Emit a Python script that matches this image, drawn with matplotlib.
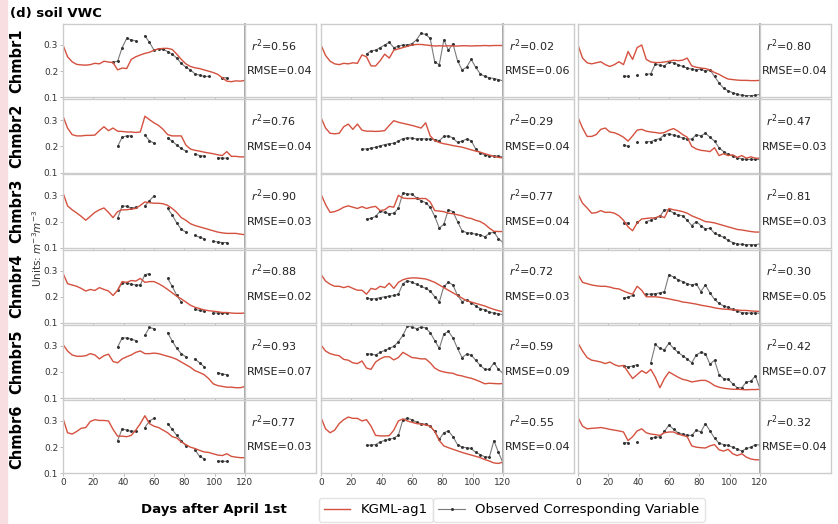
import numpy as np
import matplotlib as mpl
mpl.use('Agg')
import matplotlib.pyplot as plt
from matplotlib.lines import Line2D
from matplotlib.patches import Rectangle

nan = np.nan

# model output every 3 days (0..120), observations every 3 days (27..120)
model_days = np.arange(0, 121, 3)
obs_days = np.arange(27, 121, 3)

chambers = ['Chmbr1', 'Chmbr2', 'Chmbr3', 'Chmbr4', 'Chmbr5', 'Chmbr6']
r2_vals = [[0.56, 0.02, 0.80], [0.76, 0.29, 0.47], [0.90, 0.77, 0.81],
           [0.88, 0.72, 0.30], [0.93, 0.59, 0.42], [0.77, 0.55, 0.32]]
rmse_vals = [[0.04, 0.06, 0.04], [0.04, 0.04, 0.03], [0.03, 0.04, 0.03],
             [0.02, 0.03, 0.05], [0.07, 0.09, 0.07], [0.03, 0.04, 0.04]]
x_ticks = [0, 20, 40, 60, 80, 100, 120]
y_ticks = [0.1, 0.2, 0.3]

kgml_1_1 = [0.300, 0.255, 0.236, 0.226, 0.224, 0.223, 0.225, 0.230, 0.228, 0.238,
            0.235, 0.233, 0.205, 0.212, 0.210, 0.245, 0.255, 0.262, 0.268, 0.272,
            0.280, 0.285, 0.287, 0.287, 0.283, 0.265, 0.245, 0.228, 0.218, 0.213,
            0.210, 0.205, 0.200, 0.195, 0.188, 0.175, 0.162, 0.160, 0.163, 0.162, 0.165]
obs_1_1 = [nan, nan, 0.235, 0.238, 0.290, 0.325, 0.320, 0.315, nan, 0.335,
           0.310, 0.280, 0.285, 0.283, 0.275, 0.265, 0.250, 0.230, 0.215, 0.205,
           0.190, 0.185, 0.180, 0.180, nan, nan, 0.175, 0.175, nan, nan, nan, nan]

kgml_1_2 = [0.300, 0.260, 0.238, 0.228, 0.225, 0.230, 0.228, 0.232, 0.230, 0.262,
            0.255, 0.220, 0.220, 0.240, 0.265, 0.250, 0.280, 0.285, 0.290, 0.295,
            0.300, 0.302, 0.302, 0.300, 0.298, 0.296, 0.297, 0.296, 0.297, 0.296,
            0.296, 0.297, 0.297, 0.296, 0.297, 0.297, 0.298, 0.297, 0.298, 0.298, 0.298]
obs_1_2 = [nan, 0.265, 0.278, 0.280, 0.290, 0.300, 0.310, 0.290, 0.295, 0.300,
           0.300, 0.305, 0.320, 0.345, 0.340, 0.325, 0.235, 0.225, 0.320, 0.280,
           0.305, 0.240, 0.205, 0.215, 0.245, 0.215, 0.190, 0.180, 0.175, 0.172, 0.168, 0.163]

kgml_1_3 = [0.300, 0.250, 0.232, 0.228, 0.232, 0.236, 0.225, 0.218, 0.225, 0.236,
            0.225, 0.275, 0.245, 0.290, 0.300, 0.245, 0.235, 0.233, 0.233, 0.235,
            0.238, 0.242, 0.240, 0.242, 0.250, 0.220, 0.215, 0.212, 0.210, 0.205,
            0.195, 0.188, 0.178, 0.170, 0.168, 0.166, 0.165, 0.165, 0.164, 0.164, 0.165]
obs_1_3 = [nan, 0.182, 0.180, nan, 0.185, nan, 0.188, 0.190, 0.228, 0.222,
           0.220, 0.235, 0.232, 0.225, 0.218, 0.212, 0.208, 0.205, 0.208, 0.200,
           0.205, 0.180, 0.155, 0.135, 0.125, 0.118, 0.112, 0.108, 0.107, 0.107, 0.108, 0.112]

kgml_2_1 = [0.315, 0.270, 0.245, 0.240, 0.240, 0.242, 0.242, 0.243, 0.260, 0.275,
            0.260, 0.270, 0.258, 0.257, 0.255, 0.255, 0.253, 0.255, 0.315, 0.302,
            0.290, 0.280, 0.265, 0.245, 0.240, 0.240, 0.240, 0.205, 0.190, 0.185,
            0.182, 0.178, 0.175, 0.172, 0.168, 0.165, 0.180, 0.162, 0.162, 0.160, 0.160]
obs_2_1 = [nan, nan, nan, 0.200, 0.235, 0.240, 0.240, nan, nan, 0.243,
           0.222, 0.212, nan, nan, 0.232, 0.220, 0.205, 0.192, 0.182, nan,
           0.172, 0.165, 0.163, nan, nan, 0.157, 0.155, 0.155, nan, nan, nan, nan]

kgml_2_2 = [0.310, 0.270, 0.250, 0.248, 0.250, 0.275, 0.285, 0.265, 0.285, 0.262,
            0.258, 0.258, 0.257, 0.258, 0.260, 0.280, 0.298, 0.292, 0.288, 0.284,
            0.280, 0.275, 0.270, 0.290, 0.240, 0.222, 0.215, 0.210, 0.207, 0.203,
            0.200, 0.197, 0.192, 0.187, 0.182, 0.178, 0.172, 0.167, 0.162, 0.158, 0.156]
obs_2_2 = [0.190, 0.190, 0.193, 0.197, 0.202, 0.207, 0.210, 0.212, 0.220, 0.230,
           0.232, 0.232, 0.228, 0.230, 0.228, 0.228, 0.226, 0.222, 0.238, 0.240,
           0.232, 0.215, 0.220, 0.228, 0.222, 0.190, 0.175, 0.167, 0.163, 0.163, 0.163, 0.160]

kgml_2_3 = [0.310, 0.270, 0.238, 0.238, 0.245, 0.265, 0.270, 0.255, 0.252, 0.245,
            0.235, 0.220, 0.240, 0.262, 0.265, 0.258, 0.255, 0.253, 0.250, 0.253,
            0.262, 0.268, 0.258, 0.245, 0.235, 0.200, 0.190, 0.185, 0.183, 0.180,
            0.195, 0.165, 0.172, 0.165, 0.168, 0.158, 0.165, 0.155, 0.160, 0.155, 0.155]
obs_2_3 = [nan, 0.205, 0.200, nan, 0.215, nan, 0.218, 0.218, 0.225, 0.230,
           0.245, 0.248, 0.243, 0.238, 0.232, 0.228, 0.228, 0.245, 0.240, 0.250,
           0.235, 0.220, 0.195, 0.180, 0.170, 0.163, 0.157, 0.152, 0.150, 0.150, 0.150, 0.150]

kgml_3_1 = [0.310, 0.260, 0.245, 0.233, 0.220, 0.205, 0.220, 0.235, 0.245, 0.252,
            0.235, 0.215, 0.238, 0.245, 0.245, 0.248, 0.250, 0.262, 0.275, 0.272,
            0.270, 0.270, 0.268, 0.262, 0.250, 0.235, 0.215, 0.205, 0.192, 0.185,
            0.180, 0.175, 0.170, 0.165, 0.160, 0.157, 0.155, 0.155, 0.155, 0.152, 0.150]
obs_3_1 = [nan, nan, nan, 0.212, 0.260, 0.258, 0.252, 0.255, nan, 0.260,
           0.280, 0.298, nan, nan, 0.250, 0.225, 0.195, 0.170, 0.160, nan,
           0.148, 0.140, 0.135, nan, 0.125, 0.122, 0.120, 0.120, nan, nan, nan, nan]

kgml_3_2 = [0.305, 0.265, 0.235, 0.238, 0.245, 0.255, 0.260, 0.255, 0.250, 0.257,
            0.250, 0.255, 0.258, 0.242, 0.245, 0.258, 0.255, 0.300, 0.290, 0.288,
            0.288, 0.288, 0.288, 0.288, 0.275, 0.242, 0.240, 0.238, 0.232, 0.230,
            0.226, 0.222, 0.215, 0.212, 0.205, 0.200, 0.190, 0.175, 0.163, 0.162, 0.162]
obs_3_2 = [nan, 0.210, 0.212, 0.220, 0.240, 0.235, 0.230, 0.232, 0.250, 0.310,
           0.305, 0.305, 0.290, 0.280, 0.272, 0.255, 0.220, 0.175, 0.190, 0.245,
           0.238, 0.200, 0.165, 0.158, 0.156, 0.152, 0.150, 0.142, 0.155, 0.160, 0.135, 0.120]

kgml_3_3 = [0.305, 0.270, 0.252, 0.232, 0.234, 0.242, 0.235, 0.236, 0.232, 0.222,
            0.205, 0.180, 0.165, 0.195, 0.210, 0.212, 0.214, 0.213, 0.222, 0.215,
            0.250, 0.245, 0.242, 0.238, 0.232, 0.222, 0.215, 0.208, 0.200, 0.198,
            0.195, 0.190, 0.185, 0.180, 0.175, 0.170, 0.168, 0.165, 0.162, 0.160, 0.160]
obs_3_3 = [nan, 0.195, 0.195, nan, 0.200, nan, 0.200, 0.205, 0.215, 0.220,
           0.245, 0.245, 0.232, 0.225, 0.222, 0.205, 0.185, 0.200, 0.185, 0.172,
           0.175, 0.155, 0.148, 0.140, 0.128, 0.120, 0.115, 0.113, 0.112, 0.112, 0.112, 0.115]

kgml_4_1 = [0.290, 0.250, 0.245, 0.240, 0.232, 0.222, 0.228, 0.224, 0.235, 0.228,
            0.222, 0.205, 0.225, 0.258, 0.255, 0.262, 0.260, 0.270, 0.255, 0.258,
            0.258, 0.250, 0.240, 0.228, 0.215, 0.202, 0.192, 0.180, 0.168, 0.160,
            0.155, 0.150, 0.147, 0.145, 0.143, 0.140, 0.140, 0.138, 0.137, 0.137, 0.138]
obs_4_1 = [nan, nan, nan, 0.225, 0.252, 0.253, 0.248, 0.245, 0.245, 0.285,
           0.288, nan, nan, nan, 0.270, 0.240, 0.205, 0.180, nan, nan,
           0.152, 0.148, 0.145, nan, 0.138, 0.138, 0.137, 0.137, nan, nan, nan, nan]

kgml_4_2 = [0.285, 0.260, 0.248, 0.240, 0.240, 0.235, 0.240, 0.232, 0.225, 0.225,
            0.210, 0.232, 0.228, 0.240, 0.235, 0.252, 0.232, 0.255, 0.265, 0.270,
            0.272, 0.272, 0.270, 0.268, 0.262, 0.255, 0.245, 0.235, 0.225, 0.215,
            0.205, 0.195, 0.185, 0.180, 0.175, 0.170, 0.165, 0.158, 0.152, 0.147, 0.143]
obs_4_2 = [nan, 0.195, 0.192, 0.193, 0.197, 0.200, 0.202, 0.205, 0.210, 0.250,
           0.262, 0.255, 0.248, 0.240, 0.232, 0.222, 0.200, 0.180, 0.240, 0.255,
           0.245, 0.205, 0.182, 0.188, 0.178, 0.165, 0.155, 0.150, 0.142, 0.138, 0.135, 0.132]

kgml_4_3 = [0.285, 0.255, 0.250, 0.245, 0.242, 0.240, 0.240, 0.237, 0.232, 0.230,
            0.222, 0.215, 0.210, 0.240, 0.225, 0.200, 0.200, 0.200, 0.198, 0.195,
            0.192, 0.188, 0.185, 0.180, 0.178, 0.175, 0.172, 0.168, 0.165, 0.162,
            0.158, 0.155, 0.153, 0.152, 0.150, 0.150, 0.148, 0.148, 0.146, 0.145, 0.144]
obs_4_3 = [nan, 0.196, 0.198, 0.205, nan, nan, 0.210, 0.210, 0.212, 0.215,
           0.220, 0.285, 0.275, 0.265, 0.258, 0.250, 0.245, 0.250, 0.220, 0.245,
           0.215, 0.190, 0.175, 0.165, 0.160, 0.152, 0.145, 0.140, 0.138, 0.138, 0.138, 0.137]

kgml_5_1 = [0.305, 0.280, 0.265, 0.260, 0.260, 0.262, 0.270, 0.265, 0.250, 0.262,
            0.268, 0.240, 0.235, 0.250, 0.258, 0.265, 0.275, 0.280, 0.270, 0.270,
            0.272, 0.270, 0.265, 0.260, 0.255, 0.248, 0.238, 0.228, 0.218, 0.205,
            0.198, 0.190, 0.175, 0.155, 0.148, 0.145, 0.142, 0.142, 0.140, 0.140, 0.145]
obs_5_1 = [nan, nan, nan, 0.295, 0.330, 0.330, 0.325, 0.320, nan, 0.340,
           0.370, 0.365, nan, nan, 0.350, 0.318, 0.290, 0.270, 0.258, nan,
           0.250, 0.235, 0.220, nan, nan, 0.198, 0.192, 0.190, nan, nan, nan, nan]

kgml_5_2 = [0.303, 0.280, 0.270, 0.265, 0.262, 0.248, 0.245, 0.235, 0.232, 0.242,
            0.215, 0.210, 0.238, 0.250, 0.258, 0.258, 0.246, 0.255, 0.275, 0.265,
            0.255, 0.253, 0.250, 0.250, 0.235, 0.215, 0.205, 0.200, 0.197, 0.195,
            0.188, 0.185, 0.180, 0.176, 0.170, 0.163, 0.155, 0.157, 0.156, 0.155, 0.156]
obs_5_2 = [nan, 0.270, 0.268, 0.265, 0.275, 0.282, 0.290, 0.298, 0.315, 0.340,
           0.375, 0.372, 0.365, 0.372, 0.368, 0.350, 0.320, 0.290, 0.345, 0.355,
           0.330, 0.290, 0.255, 0.268, 0.265, 0.245, 0.225, 0.210, 0.210, 0.235, 0.210, 0.195]

kgml_5_3 = [0.310, 0.280, 0.255, 0.245, 0.242, 0.238, 0.232, 0.238, 0.228, 0.222,
            0.225, 0.200, 0.175, 0.190, 0.205, 0.195, 0.210, 0.180, 0.140, 0.175,
            0.200, 0.190, 0.180, 0.172, 0.168, 0.162, 0.165, 0.168, 0.168, 0.160,
            0.148, 0.142, 0.138, 0.136, 0.134, 0.134, 0.133, 0.132, 0.133, 0.133, 0.134]
obs_5_3 = [nan, 0.222, 0.220, 0.222, 0.228, nan, nan, 0.235, 0.305, 0.290,
           0.285, 0.310, 0.290, 0.275, 0.262, 0.250, 0.235, 0.265, 0.275, 0.270,
           0.230, 0.245, 0.190, 0.175, 0.172, 0.155, 0.140, 0.140, 0.162, 0.165, 0.185, 0.135]

kgml_6_1 = [0.310, 0.255, 0.250, 0.260, 0.272, 0.275, 0.298, 0.305, 0.302, 0.302,
            0.300, 0.268, 0.242, 0.242, 0.240, 0.245, 0.265, 0.290, 0.320, 0.290,
            0.280, 0.275, 0.265, 0.255, 0.240, 0.235, 0.220, 0.210, 0.200, 0.195,
            0.188, 0.182, 0.180, 0.175, 0.170, 0.168, 0.175, 0.165, 0.162, 0.160, 0.160]
obs_6_1 = [nan, nan, nan, 0.225, 0.270, 0.265, 0.260, 0.262, nan, 0.275,
           0.300, 0.310, nan, nan, 0.290, 0.268, 0.245, 0.225, 0.205, nan,
           0.190, 0.165, 0.156, nan, nan, 0.147, 0.146, 0.146, nan, nan, nan, nan]

kgml_6_2 = [0.313, 0.270, 0.255, 0.265, 0.290, 0.305, 0.315, 0.310, 0.310, 0.300,
            0.305, 0.280, 0.245, 0.243, 0.243, 0.244, 0.265, 0.300, 0.308, 0.300,
            0.295, 0.290, 0.288, 0.285, 0.280, 0.260, 0.225, 0.205, 0.198, 0.192,
            0.186, 0.180, 0.175, 0.170, 0.165, 0.160, 0.153, 0.147, 0.140, 0.138, 0.143]
obs_6_2 = [nan, 0.207, 0.208, 0.210, 0.220, 0.226, 0.230, 0.235, 0.245, 0.305,
           0.310, 0.305, 0.295, 0.290, 0.288, 0.280, 0.260, 0.230, 0.255, 0.262,
           0.240, 0.210, 0.200, 0.198, 0.195, 0.180, 0.172, 0.163, 0.162, 0.225, 0.180, 0.140]

kgml_6_3 = [0.313, 0.280, 0.270, 0.272, 0.273, 0.275, 0.272, 0.268, 0.265, 0.262,
            0.258, 0.225, 0.240, 0.262, 0.270, 0.255, 0.250, 0.248, 0.245, 0.255,
            0.258, 0.258, 0.250, 0.245, 0.240, 0.205, 0.200, 0.198, 0.197, 0.205,
            0.210, 0.190, 0.185, 0.192, 0.175, 0.168, 0.175, 0.162, 0.155, 0.152, 0.152]
obs_6_3 = [nan, 0.217, 0.217, nan, 0.218, nan, nan, 0.235, 0.237, 0.240,
           0.260, 0.285, 0.268, 0.255, 0.250, 0.245, 0.245, 0.265, 0.258, 0.290,
           0.262, 0.235, 0.215, 0.210, 0.207, 0.200, 0.193, 0.185, 0.195, 0.200, 0.210, 0.208]

model_runs = [[kgml_1_1, kgml_1_2, kgml_1_3], [kgml_2_1, kgml_2_2, kgml_2_3],
              [kgml_3_1, kgml_3_2, kgml_3_3], [kgml_4_1, kgml_4_2, kgml_4_3],
              [kgml_5_1, kgml_5_2, kgml_5_3], [kgml_6_1, kgml_6_2, kgml_6_3]]
obs_runs = [[obs_1_1, obs_1_2, obs_1_3], [obs_2_1, obs_2_2, obs_2_3],
            [obs_3_1, obs_3_2, obs_3_3], [obs_4_1, obs_4_2, obs_4_3],
            [obs_5_1, obs_5_2, obs_5_3], [obs_6_1, obs_6_2, obs_6_3]]

red = '#d4513f'
W, H = 838, 524


def box(x, y, w, h):
    # pixel box (from top-left) -> figure fraction
    return [x / W, 1 - (y + h) / H, w / W, h / H]


fig = plt.figure(figsize=(W / 100, H / 100), dpi=100)
fig.patches.append(Rectangle((0, 0), 7 / W, 1, transform=fig.transFigure,
                             color='#f8dde1', zorder=0))

col_x = [63, 321, 578]
plot_w, text_w, row_h = 182, 71, 73.4

for i in range(6):
    top = 24 + i * 75.2
    for j in range(3):
        ax = fig.add_axes(box(col_x[j], top, plot_w, row_h))
        tx = fig.add_axes(box(col_x[j] + plot_w, top, text_w, row_h))

        ax.plot(obs_days, obs_runs[i][j], color='#7a7a7a', lw=0.8, marker='.',
                ms=2.3, mfc='#333333', mec='#333333')
        ax.plot(model_days, model_runs[i][j], color=red, lw=1.0)
        ax.set_xlim(0, 120)
        ax.set_ylim(0.1, 0.38)
        ax.set_xticks(x_ticks)
        ax.set_yticks(y_ticks)
        ax.tick_params(length=2, width=0.6, color='#b0b0b0', labelsize=6.5,
                       labelcolor='#333333', pad=1.5)
        if j > 0:
            ax.tick_params(axis='y', left=False, labelleft=False)
        if i < 5:
            ax.tick_params(axis='x', labelbottom=False)
        for s in ax.spines.values():
            s.set_color('#cccccc')
            s.set_linewidth(1.0)
        ax.spines['right'].set_color('#9a9a9a')
        ax.spines['right'].set_linewidth(1.3)

        tx.set_xticks([])
        tx.set_yticks([])
        for s in tx.spines.values():
            s.set_color('#cccccc')
            s.set_linewidth(1.0)
        tx.text(0.08, 0.71, r'$r^2$=%.2f' % r2_vals[i][j], fontsize=8,
                va='center', color='#222222')
        tx.text(0.03, 0.355, 'RMSE=%.2f' % rmse_vals[i][j], fontsize=8,
                va='center', color='#222222')

    fig.text(17 / W, 1 - (top + row_h / 2) / H, chambers[i], rotation=90,
             fontweight='bold', fontsize=10.5, ha='center', va='center')

fig.text(10 / W, 1 - 13 / H, '(d) soil VWC', fontweight='bold', fontsize=9.5,
         va='center')
fig.text(37 / W, 1 - 248 / H, r'Units: $m^{-3}m^{-3}$', rotation=90, fontsize=7.5,
         ha='center', va='center', color='#333333')
fig.text(214 / W, 1 - 510 / H, 'Days after April 1st', fontweight='bold',
         fontsize=9.5, ha='center', va='center')

h_model = Line2D([], [], color=red, lw=1.0)
h_obs = Line2D([], [], color='#7a7a7a', lw=0.8, marker='.', ms=2.3,
               mfc='#333333', mec='#333333')
fig.legend(handles=[h_model], labels=['KGML-ag1'], loc='center',
           bbox_to_anchor=(376 / W, 1 - 510 / H), fontsize=9.5, edgecolor='#dddddd')
fig.legend(handles=[h_obs], labels=['Observed Corresponding Variable'], loc='center',
           bbox_to_anchor=(569 / W, 1 - 510 / H), fontsize=9.5, edgecolor='#dddddd')

fig.savefig('out.png', dpi=100)
